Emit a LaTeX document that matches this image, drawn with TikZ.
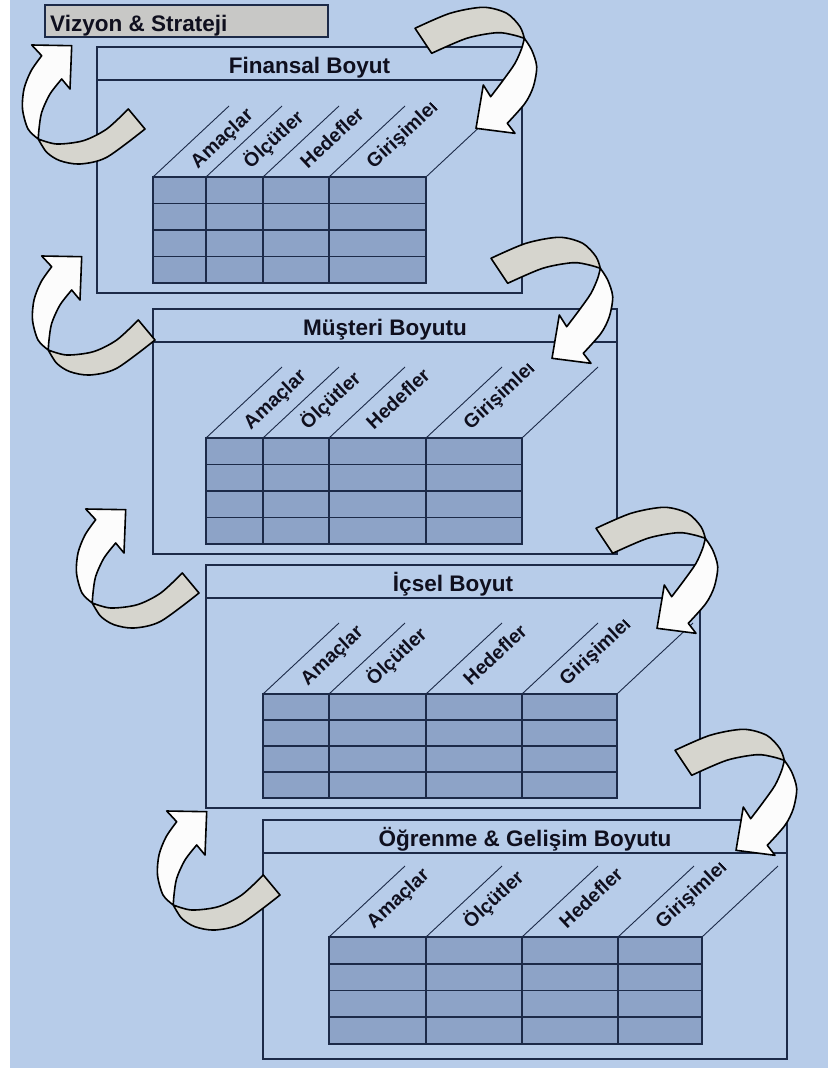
\documentclass[tikz,border=0pt]{standalone}
\usepackage{fontspec}
\setmainfont{Liberation Sans}

\definecolor{bgblue}{RGB}{183,204,233}
\definecolor{cellblue}{RGB}{141,163,199}
\definecolor{navy}{RGB}{28,42,72}
\definecolor{vizgray}{RGB}{200,200,198}
\definecolor{tailgray}{RGB}{214,213,206}
\definecolor{headwhite}{RGB}{252,252,252}
\definecolor{inkblack}{RGB}{15,15,30}

\newcommand\lblfont{\fontsize{19.5}{23}\selectfont\bfseries}
\newlength\girw

% curved arrow returning to the upper box (left side)
\newcommand\loopbackL{%
  \filldraw[arrowgray] (138.3,320) -- (155,340)
    -- plot[smooth] coordinates {(155,340) (116.7,368.3) (90,375) (70,371.7) (56.7,363.3) (48.3,350)}
    -- plot[smooth] coordinates {(48.3,350) (66.7,355) (93.3,351.7) (116.7,340) (138.3,320)} -- cycle;
  \filldraw[arrowwhite]
    plot[smooth] coordinates {(48.3,350) (38,340) (32.5,320) (34,300) (41,282) (51.7,266.7)}
    -- (41.7,256) -- (81.7,256.7) -- (80,300) -- (71.7,290)
    -- plot[smooth] coordinates {(71.7,290) (60,305) (51.7,323.3) (49,340) (48.3,350)} -- cycle;
}
% curved arrow leading down to the next box (right side)
\newcommand\loopbackR{%
  \filldraw[arrowgray]
    plot[smooth] coordinates {(415,28.3) (450,13.3) (483.3,7.3) (506.7,13.3) (520,26.7) (524.3,38.3)}
    -- plot[smooth] coordinates {(524.3,38.3) (513.3,35) (496.7,32.7) (466.7,38.3) (431.7,53.3)} -- cycle;
  \filldraw[arrowwhite]
    plot[smooth] coordinates {(524.3,38.3) (531.7,50) (536.7,66.7) (533.3,86.7) (525,103.3) (507.3,123.3)}
    -- (515,133.3) -- (476,128.3) -- (483.3,85) -- (490.7,96.7)
    -- plot[smooth] coordinates {(490.7,96.7) (503.3,80) (515,63.3) (521.7,48.3) (524.3,38.3)} -- cycle;
}

\tikzset{
  panelline/.style={draw=navy, line width=1.8pt},
  gridline/.style={draw=navy, line width=1.6pt},
  diagline/.style={draw=navy, line width=0.9pt},
  titletext/.style={inner sep=0pt, font=\fontsize{22.5}{27}\selectfont\bfseries, text=inkblack},
  labeltext/.style={inner sep=0pt, font=\lblfont, text=inkblack},
  arrowgray/.style={fill=tailgray, draw=black, line width=1.6pt, line join=round},
  arrowwhite/.style={fill=headwhite, draw=black, line width=1.6pt, line join=round},
}

\begin{document}
% width of the heading text that stays visible in the last column
\settowidth{\girw}{\lblfont Girişimle}
\pgfmathsetmacro\clipx{38+\girw+3.9}
\begin{tikzpicture}[x=1pt,y=-1pt]
\useasboundingbox (0,0) rectangle (828,1068);
\fill[white] (0,0) rectangle (10,1068);
\fill[bgblue] (10,0) rectangle (828,1068);

% vision box
\draw[panelline, fill=vizgray] (45,5) rectangle (328,37);
\node[titletext, anchor=base west] (vizyon) at (50,31) {Vizyon \& Strateji};

% the four perspective panels
\foreach \nm/\L/\T/\R/\B/\ttl/\tt/\tb/\cA/\cB/\cC/\cD/\cE in {
  fin/97/47/522/293/{Finansal Boyut}/177/283/153/206/263/329/426,
  mus/153/309/617/554/{Müşteri Boyutu}/438/544/206/263/329/426/522,
  ics/206/565/700/808/{İçsel Boyut}/694/798/263/329/426/522/617,
  ogr/263/820/787/1059/{Öğrenme \& Gelişim Boyutu}/937/1044/329/426/522/618/702}{
  \draw[panelline, fill=bgblue] (\L,\T) rectangle (\R,\B);
  \draw[panelline] (\L,\T+33) -- (\R,\T+33);
  \node[titletext, anchor=base] (title-\nm) at ({(\L+\R)/2},\T+26) {\ttl};
  % table
  \fill[cellblue] (\cA,\tt) rectangle (\cE,\tb);
  \foreach \k in {1,2,3}
    \draw[gridline] (\cA,{\tt+\k*(\tb-\tt)/4}) -- (\cE,{\tt+\k*(\tb-\tt)/4});
  \foreach \c in {\cB,\cC,\cD}
    \draw[gridline] (\c,\tt) -- (\c,\tb);
  \draw[gridline] (\cA,\tt) rectangle (\cE,\tb);
  % slanted header lines
  \foreach \c in {\cA,\cB,\cC,\cD,\cE}
    \draw[diagline] (\c,\tt) -- ++(76,-71);
  % slanted column headings
  \foreach \c/\lab [count=\j] in {\cA/Amaçlar,\cB/Ölçütler,\cC/Hedefler,\cD/Girişimler}{
    \begin{scope}[shift={(\c,\tt)}, rotate=43]
      \clip (20,-40) rectangle (\clipx,40);
      \node[labeltext, anchor=base west, transform shape] (lab-\nm-\j) at (38,25) {\lab};
    \end{scope}
  }
}

% curved arrows on the left
\foreach \dx/\dy in {-10/-211, 0/0, 44/253, 125/555}{
  \begin{scope}[shift={(\dx,\dy)}] \loopbackL \end{scope}
}
% curved arrows on the right
\foreach \dx/\dy in {0/0, 76/230, 181/500, 260/722}{
  \begin{scope}[shift={(\dx,\dy)}] \loopbackR \end{scope}
}
\end{tikzpicture}
\end{document}
